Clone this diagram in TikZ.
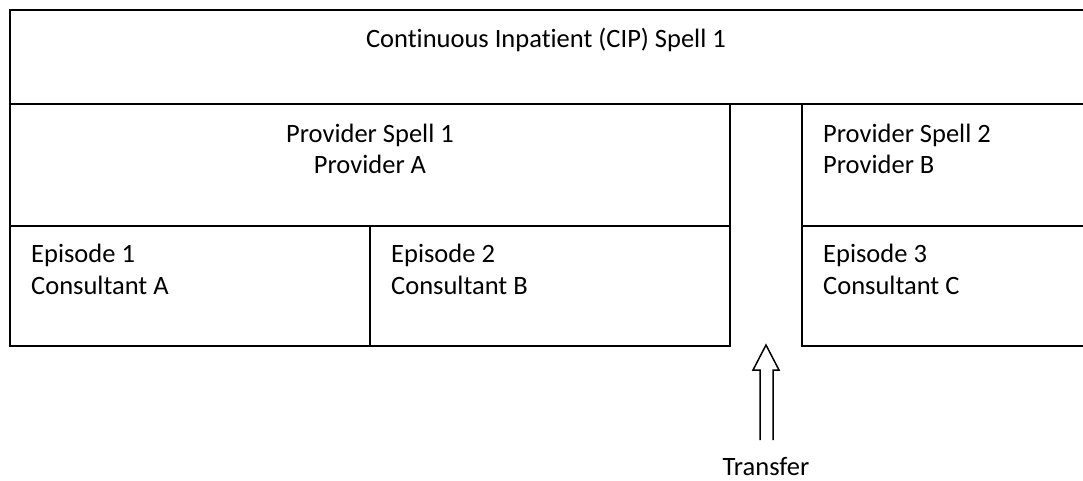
\documentclass[tikz,border=0pt]{standalone}
\usepackage{fontspec}
\setmainfont{Carlito}[Ligatures=NoCommon]
\begin{document}
\begin{tikzpicture}[x=1pt,y=-1pt,
  boxline/.style={draw=black,line width=2pt},
  lbl/.style={font=\fontsize{26.5}{31}\selectfont,inner sep=0pt,anchor=base},
  lbll/.style={font=\fontsize{26.5}{31}\selectfont,inner sep=0pt,anchor=base west}]
\useasboundingbox (0,0) rectangle (1083,480);
\clip (0,0) rectangle (1083,480);
% boxes
\draw[boxline] (1100,10) -- (10,10) -- (10,104) -- (1100,104);
\draw[boxline] (10,104) rectangle (730,226);
\draw[boxline] (10,226) rectangle (370,346);
\draw[boxline] (370,226) rectangle (730,346);
\draw[boxline] (1100,104) -- (802,104) -- (802,346) -- (1100,346);
\draw[boxline] (802,226) -- (1100,226);
% texts
\node[lbl] (cip) at (546,47) {Continuous Inpatient (CIP) Spell 1};
\node[lbl] (ps1) at (370,142) {Provider Spell 1};
\node[lbl] (pa) at (370,173) {Provider A};
\node[lbll] (e1) at (31,262) {Episode 1};
\node[lbll] (ca) at (31,294) {Consultant A};
\node[lbll] (e2) at (391,262) {Episode 2};
\node[lbll] (cb) at (391,294) {Consultant B};
\node[lbll] (ps2) at (823,142) {Provider Spell 2};
\node[lbll] (pb) at (823,173) {Provider B};
\node[lbll] (e3) at (823,262) {Episode 3};
\node[lbll] (cc) at (823,294) {Consultant C};
\node[lbl] (tr) at (766,475) {Transfer};
% arrow
\draw[line width=1.5pt,line join=miter] (760,440) -- (760,370) -- (753,370) -- (766,345) -- (779,370) -- (773,370) -- (773,440);
\end{tikzpicture}
\end{document}
